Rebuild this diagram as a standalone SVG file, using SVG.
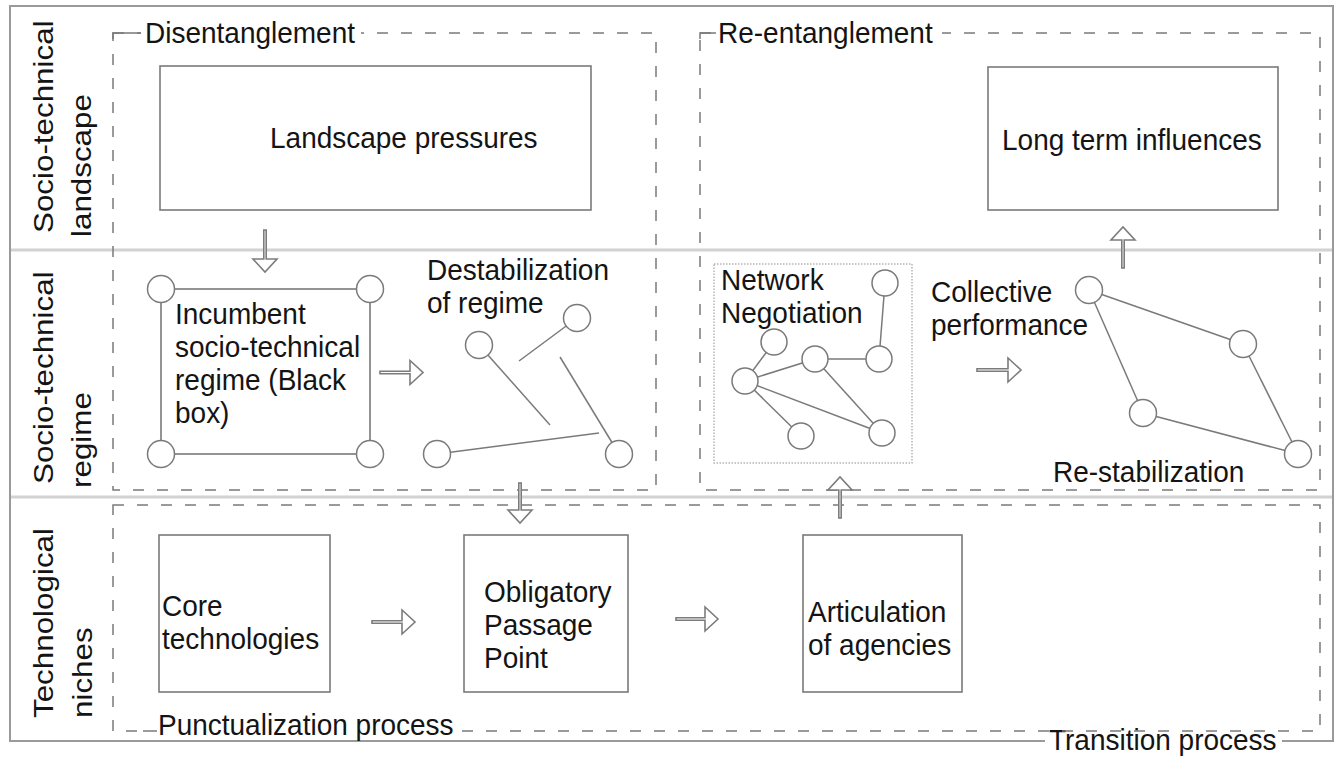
<svg xmlns="http://www.w3.org/2000/svg" width="1341" height="758" viewBox="0 0 1341 758">
<style>
  .t { font-family: "Liberation Sans", Arial, Helvetica, sans-serif; font-size: 28px; fill: #141414; }
  .box { fill: #ffffff; stroke: #7a7a7a; stroke-width: 1.6; }
  .dash { fill: none; stroke: #7a7a7a; stroke-width: 1.5; stroke-dasharray: 11 13; }
  .solid { fill: none; stroke: #7a7a7a; stroke-width: 1.5; }
  .sep { stroke: #d2d2d2; stroke-width: 3; }
  .node { fill: #ffffff; stroke: #7a7a7a; stroke-width: 1.5; }
  .edge { stroke: #7a7a7a; stroke-width: 1.5; }
  .arrow { fill: #ffffff; stroke: #7c7c7c; stroke-width: 1.6; stroke-linejoin: miter; }
  .mask { fill: #ffffff; }
</style>
<rect x="0" y="0" width="1341" height="758" fill="#ffffff"/>

<!-- outer frame with Transition process label -->
<g id="frame">
  <path d="M1045,741 H10 V6 H1333 V741 H1282" fill="none" stroke="#9a9a9a" stroke-width="2"/>
  <line class="sep" x1="11" y1="250" x2="1332" y2="250"/>
  <line class="sep" x1="11" y1="497" x2="1332" y2="497"/>
  <text class="t" transform="translate(1049,750) scale(1,1.08)">Transition process</text>
</g>

<!-- row labels -->
<g id="row-landscape">
  <text class="t" transform="translate(53,233) rotate(-90) scale(1.12,1)">Socio-technical</text>
  <text class="t" transform="translate(91,237) rotate(-90) scale(1.12,1)">landscape</text>
</g>
<g id="row-regime">
  <text class="t" transform="translate(53,484) rotate(-90) scale(1.12,1)">Socio-technical</text>
  <text class="t" transform="translate(91,488) rotate(-90) scale(1.12,1)">regime</text>
</g>
<g id="row-niches">
  <text class="t" transform="translate(53,718) rotate(-90) scale(1.12,1)">Technological</text>
  <text class="t" transform="translate(92,718) rotate(-90) scale(1.12,1)">niches</text>
</g>

<!-- Disentanglement group box -->
<g id="disentanglement">
  <rect class="dash" x="113" y="33" width="543" height="457"/>
  <rect class="mask" x="141" y="18" width="220" height="30"/>
  <path class="solid" d="M113,39 V33 H141"/>
  <text class="t" transform="translate(145,43) scale(1,1.08)">Disentanglement</text>
</g>

<!-- Re-entanglement group box -->
<g id="reentanglement">
  <rect class="dash" x="700" y="33" width="620" height="457"/>
  <rect class="mask" x="714" y="18" width="228" height="30"/>
  <path class="solid" d="M700,39 V33 H716"/>
  <text class="t" transform="translate(718,43) scale(1,1.08)">Re-entanglement</text>
</g>

<!-- Niche / punctualization box -->
<g id="punctualization">
  <rect class="dash" x="113" y="505" width="1207" height="226"/>
  <rect class="mask" x="141" y="716" width="320" height="22"/>
  <path class="solid" d="M143,731 H157"/>
  <text class="t" transform="translate(158,735) scale(1,1.08)">Punctualization process</text>
</g>

<g id="landscape-pressures">
  <rect class="box" x="160" y="66" width="431" height="144"/>
  <text class="t" transform="translate(270,148) scale(1,1.08)">Landscape pressures</text>
</g>

<g id="long-term-influences">
  <rect class="box" x="988" y="67" width="290" height="143"/>
  <text class="t" transform="translate(1002,150) scale(1,1.08)">Long term influences</text>
</g>

<g id="incumbent-regime">
  <rect class="box" x="161" y="289" width="209" height="165"/>
  <circle class="node" cx="161" cy="289" r="13.5"/>
  <circle class="node" cx="370" cy="289" r="13.5"/>
  <circle class="node" cx="161" cy="454" r="13.5"/>
  <circle class="node" cx="370" cy="454" r="13.5"/>
  <text class="t" transform="translate(175,324) scale(1,1.08)">Incumbent</text>
  <text class="t" transform="translate(175,357) scale(1,1.08)">socio-technical</text>
  <text class="t" transform="translate(175,390) scale(1,1.08)">regime (Black</text>
  <text class="t" transform="translate(175,423) scale(1,1.08)">box)</text>
</g>

<g id="destabilization">
  <line class="edge" x1="479" y1="345" x2="550" y2="425"/>
  <line class="edge" x1="577" y1="318" x2="519" y2="361"/>
  <line class="edge" x1="560" y1="357" x2="619" y2="454"/>
  <line class="edge" x1="437" y1="454" x2="599" y2="433"/>
  <circle class="node" cx="479" cy="345" r="13.5"/>
  <circle class="node" cx="577" cy="318" r="13.5"/>
  <circle class="node" cx="437" cy="454" r="13.5"/>
  <circle class="node" cx="619" cy="454" r="13.5"/>
  <text class="t" transform="translate(427,280) scale(1,1.08)">Destabilization</text>
  <text class="t" transform="translate(427,313) scale(1,1.08)">of regime</text>
</g>

<g id="network-negotiation">
  <rect x="714" y="264" width="198" height="199" fill="none" stroke="#b5b5b5" stroke-width="1.5" stroke-dasharray="1.5 1.5"/>
  <line class="edge" x1="885" y1="283" x2="879" y2="359"/>
  <line class="edge" x1="774" y1="342" x2="745" y2="381"/>
  <line class="edge" x1="745" y1="381" x2="815" y2="359"/>
  <line class="edge" x1="815" y1="359" x2="879" y2="359"/>
  <line class="edge" x1="745" y1="381" x2="801" y2="436"/>
  <line class="edge" x1="745" y1="381" x2="882" y2="433"/>
  <line class="edge" x1="815" y1="359" x2="882" y2="433"/>
  <circle class="node" cx="885" cy="283" r="13"/>
  <circle class="node" cx="774" cy="342" r="13"/>
  <circle class="node" cx="815" cy="359" r="13"/>
  <circle class="node" cx="879" cy="359" r="13"/>
  <circle class="node" cx="745" cy="381" r="13"/>
  <circle class="node" cx="801" cy="436" r="13"/>
  <circle class="node" cx="882" cy="433" r="13"/>
  <text class="t" transform="translate(721,290) scale(1,1.08)">Network</text>
  <text class="t" transform="translate(721,323) scale(1,1.08)">Negotiation</text>
</g>

<g id="collective-performance">
  <text class="t" transform="translate(931,302) scale(1,1.08)">Collective</text>
  <text class="t" transform="translate(931,335) scale(1,1.08)">performance</text>
</g>

<g id="re-stabilization">
  <line class="edge" x1="1089" y1="290" x2="1243" y2="344"/>
  <line class="edge" x1="1089" y1="290" x2="1143" y2="413"/>
  <line class="edge" x1="1243" y1="344" x2="1298" y2="454"/>
  <line class="edge" x1="1143" y1="413" x2="1298" y2="454"/>
  <circle class="node" cx="1089" cy="290" r="13.5"/>
  <circle class="node" cx="1243" cy="344" r="13.5"/>
  <circle class="node" cx="1143" cy="413" r="13.5"/>
  <circle class="node" cx="1298" cy="454" r="13.5"/>
  <text class="t" transform="translate(1053,482) scale(1,1.08)">Re-stabilization</text>
</g>

<g id="core-technologies">
  <rect class="box" x="159" y="535" width="171" height="157"/>
  <text class="t" transform="translate(162,616) scale(1,1.08)">Core</text>
  <text class="t" transform="translate(162,649) scale(1,1.08)">technologies</text>
</g>

<g id="obligatory-passage-point">
  <rect class="box" x="464" y="535" width="164" height="157"/>
  <text class="t" transform="translate(484,602) scale(1,1.08)">Obligatory</text>
  <text class="t" transform="translate(484,635) scale(1,1.08)">Passage</text>
  <text class="t" transform="translate(484,668) scale(1,1.08)">Point</text>
</g>

<g id="articulation-of-agencies">
  <rect class="box" x="803" y="535" width="159" height="157"/>
  <text class="t" transform="translate(808,622) scale(1,1.08)">Articulation</text>
  <text class="t" transform="translate(808,655) scale(1,1.08)">of agencies</text>
</g>

<g id="connectors">
  <polygon class="arrow" points="263.8,230 263.8,259 253,259 265,272 277,259 266.2,259 266.2,230"/>
  <polygon class="arrow" points="380,371.3 410,371.3 410,360.5 423,372.5 410,384.5 410,373.7 380,373.7"/>
  <polygon class="arrow" points="518.8,483 518.8,510 508,510 520,523 532,510 521.2,510 521.2,483"/>
  <polygon class="arrow" points="372,620.8 402,620.8 402,610 415,622 402,634 402,623.2 372,623.2"/>
  <polygon class="arrow" points="676,617.8 705,617.8 705,607 718,619 705,631 705,620.2 676,620.2"/>
  <polygon class="arrow" points="838.8,518 838.8,490 828,490 840,477 852,490 841.2,490 841.2,518"/>
  <polygon class="arrow" points="977,368.8 1008,368.8 1008,358 1021,370 1008,382 1008,371.2 977,371.2"/>
  <polygon class="arrow" points="1121.8,268 1121.8,240 1111,240 1123,227 1135,240 1124.2,240 1124.2,268"/>
</g>
</svg>
